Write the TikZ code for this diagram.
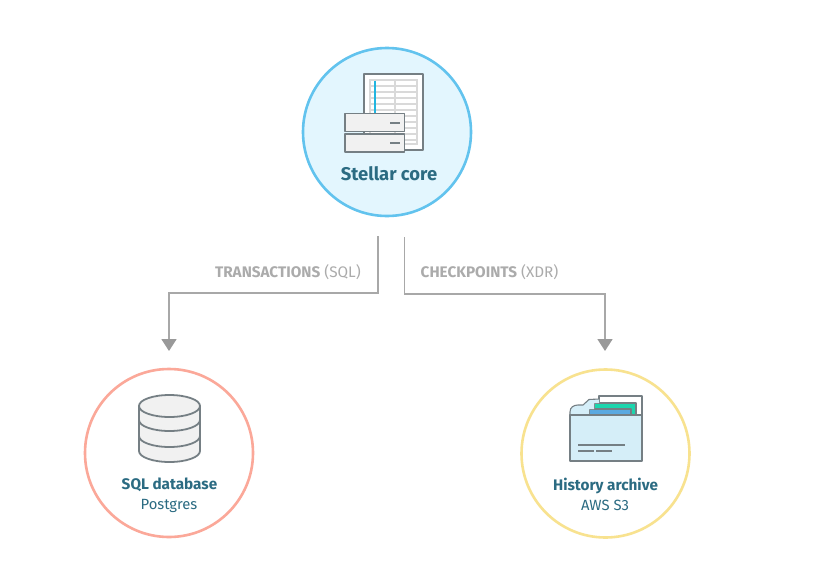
\documentclass[tikz,border=0pt]{standalone}
\usepackage{fontspec}
\setmainfont{Fira Sans}
\usetikzlibrary{arrows.meta}
\definecolor{titlecol}{HTML}{2B6B82}
\definecolor{linecol}{HTML}{A8A8A8}
\definecolor{tipcol}{HTML}{999999}
\definecolor{labelcol}{HTML}{ABABAB}
\definecolor{iconcol}{HTML}{757F84}
\definecolor{iconfill}{HTML}{F1F1F1}
\definecolor{ringblue}{HTML}{62C3EE}
\definecolor{ringred}{HTML}{FBA899}
\definecolor{ringyellow}{HTML}{F8E28F}
\definecolor{paleblue}{HTML}{E3F6FE}
\definecolor{folderblue}{HTML}{D5EEF8}
\definecolor{tealgreen}{HTML}{1CD6AE}
\definecolor{midblue}{HTML}{5BA9E0}
\definecolor{cyanline}{HTML}{22B5E0}
\tikzset{
  x=1pt,y=-1pt,
  ring/.style={circle,draw=#1,line width=2.6pt,minimum size=168pt,inner sep=0pt},
  flow/.style={draw=linecol,line width=1.7pt,-{Triangle[length=12pt,width=15pt,color=tipcol]}},
  edgelabel/.style={text=labelcol,font=\fontsize{15.3}{18}\selectfont,inner sep=0pt},
  title/.style={text=titlecol,font=\fontsize{15.3}{18}\selectfont\bfseries,inner sep=0pt},
  bigtitle/.style={text=titlecol,font=\fontsize{18.4}{21}\selectfont\bfseries,inner sep=0pt},
  subtitle/.style={text=titlecol,font=\fontsize{14.8}{18}\selectfont,inner sep=0pt},
  icon/.style={draw=iconcol,line width=1.8pt,line join=round},
  fineicon/.style={draw=iconcol,line width=1.1pt,line join=round},
  gridline/.style={draw=black!15,line width=1.2pt},
}
\begin{document}
\begin{tikzpicture}
\useasboundingbox (0,0) rectangle (814,584);
\fill[white] (0,0) rectangle (814,584);

% circles
\node[ring=ringblue,fill=paleblue] (core) at (387,132) {};
\node[ring=ringred,fill=white] (sql) at (169,453) {};
\node[ring=ringyellow,fill=white] (hist) at (605.5,453.5) {};

% connector ends
\coordinate (ls) at (378,236);
\coordinate (lm) at (378,293);
\coordinate (lc) at (169,293);
\coordinate (le) at (169,351);
\coordinate (rs) at (404.5,237);
\coordinate (rm) at (404.5,294);
\coordinate (rc) at (605,294);
\coordinate (re) at (605,351);
\draw[flow] (ls) -- (lm) -- (lc) -- (le);
\draw[flow] (rs) -- (rm) -- (rc) -- (re);

% connector labels
\node[edgelabel,anchor=east] (tl) at (361,272.5) {\textbf{TRANSACTIONS} (SQL)};
\node[edgelabel,anchor=west] (cl) at (420.5,272.5) {\textbf{CHECKPOINTS} (XDR)};

% Stellar core icon: sheet
\draw[icon,fill=white] (364,74) rectangle (423,150);
\foreach \yy in {86,92,...,140} \draw[gridline] (370,\yy) -- (417,\yy);
\draw[gridline,fill=none] (370,80) rectangle (417,144);
\draw[gridline] (395,80) -- (395,144);
\draw[cyanline,line width=1.4pt] (375,80.5) -- (375,113);
% Stellar core icon: servers
\draw[icon,fill=iconfill] (345,113.5) rectangle (404.5,131.5);
\draw[icon,fill=iconfill] (345,134) rectangle (404.5,152);
\draw[icon] (390,123) -- (400,123);
\draw[icon] (390,143) -- (400,143);

% database icon
\draw[icon,fill=iconfill] (139,406) -- (139,451) arc[start angle=180,end angle=0,x radius=30.5,y radius=11] -- (200,406) -- cycle;
\draw[icon] (139,420) arc[start angle=180,end angle=0,x radius=30.5,y radius=11];
\draw[icon] (139,436) arc[start angle=180,end angle=0,x radius=30.5,y radius=11];
\draw[icon,fill=iconfill] (169.5,406) ellipse[x radius=30.5,y radius=11];

% folder icon
\draw[fineicon,fill=white] (599,396) rectangle (642,415);
\draw[fineicon,fill=tealgreen] (594,403) rectangle (636,415);
\draw[fineicon,fill=midblue] (589,409) rectangle (631,415);
\fill[folderblue] (570,415) -- (570,412) .. controls (570,407) and (574,405) .. (578,405) -- (583,405) -- (589,399.5) -- (599,399) -- (599,403) -- (594,403) -- (594,409) -- (589,409) -- (589,415) -- cycle;
\draw[fineicon] (570,415) -- (570,412) .. controls (570,407) and (574,405) .. (578,405) -- (583,405) -- (589,399.5) -- (599,399);
\draw[icon,fill=folderblue] (570,415) rectangle (642,461);
\draw[fineicon] (578,445) -- (625,445);
\draw[fineicon] (578,451) -- (594,451);
\draw[fineicon] (596,451) -- (612,451);

% titles
\node[bigtitle] (coret) at (389,173.5) {Stellar core};
\node[title] (sqlt) at (169.5,485) {SQL database};
\node[subtitle] (sqls) at (169,505.5) {Postgres};
\node[title] (histt) at (605.5,485.5) {History archive};
\node[subtitle] (hists) at (605,505.5) {AWS S3};
\end{tikzpicture}
\end{document}
